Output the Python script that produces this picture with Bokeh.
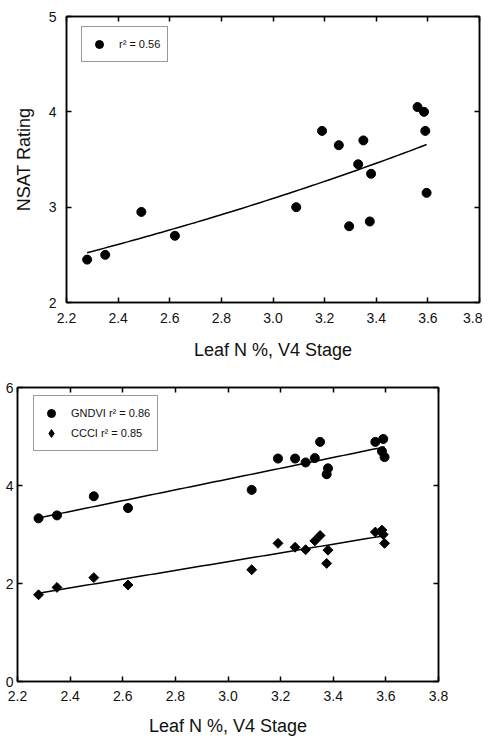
import numpy as np
from bokeh.plotting import figure
from bokeh.models import (LinearAxis, FixedTicker, PrintfTickFormatter, Range1d,
                          Legend, LegendItem)
from bokeh.layouts import column
from bokeh.embed import file_html
from bokeh.resources import INLINE

# ---- data ----
leaf_n = [2.28, 2.35, 2.49, 2.62, 3.09, 3.19, 3.255, 3.295, 3.33, 3.35,
          3.375, 3.38, 3.56, 3.585, 3.59, 3.595]
nsat = [2.45, 2.50, 2.95, 2.70, 3.00, 3.80, 3.65, 2.80, 3.45, 3.70,
        2.85, 3.35, 4.05, 4.00, 3.80, 3.15]
gndvi = [3.33, 3.39, 3.78, 3.54, 3.91, 4.55, 4.55, 4.47, 4.56, 4.89,
         4.23, 4.35, 4.89, 4.70, 4.95, 4.58]
ccci = [1.77, 1.92, 2.12, 1.97, 2.28, 2.82, 2.74, 2.69, 2.87, 2.98,
        2.41, 2.68, 3.05, 3.09, 3.00, 2.82]

x_ticks = [2.2, 2.4, 2.6, 2.8, 3.0, 3.2, 3.4, 3.6, 3.8]
top_y_ticks = [2, 3, 4, 5]
bot_y_ticks = [0, 2, 4, 6]
x_title = "Leaf N %, V4 Stage"
top_y_title = "NSAT Rating"
top_label = "r\u00b2 = 0.56"
gndvi_label = "GNDVI r\u00b2 = 0.86"
ccci_label = "CCCI r\u00b2 = 0.85"

FONT = "Liberation Sans"
TXT = "#111111"

x_arr = np.array(leaf_n)
xs = np.linspace(x_arr.min(), x_arr.max(), 60)

# exponential fit for NSAT, linear fits for the indices
b, ln_a = np.polyfit(x_arr, np.log(np.array(nsat)), 1)
nsat_fit = np.exp(ln_a + b * xs)
g_fit = np.polyval(np.polyfit(x_arr, np.array(gndvi), 1), xs)
c_fit = np.polyval(np.polyfit(x_arr, np.array(ccci), 1), xs)


def mirror_axis(ticks):
    return LinearAxis(ticker=FixedTicker(ticks=ticks), major_label_text_font_size="1px",
                      major_label_text_color=None, major_label_standoff=0,
                      major_tick_in=5, major_tick_out=0, major_tick_line_width=1.5,
                      minor_tick_line_color=None, axis_line_width=1.5)


def style(p, yticks, label_standoff_x, title_standoff_x, label_standoff_y):
    p.frame_align = False
    p.outline_line_color = "black"
    p.outline_line_width = 1.5
    p.grid.visible = False
    p.background_fill_color = "white"
    p.border_fill_color = "white"
    for ax in p.xaxis + p.yaxis:
        ax.axis_line_color = "black"
        ax.axis_line_width = 1.5
        ax.major_tick_in = 5
        ax.major_tick_out = 0
        ax.major_tick_line_width = 1.5
        ax.minor_tick_line_color = None
        ax.major_label_text_font = FONT
        ax.major_label_text_font_size = "14px"
        ax.major_label_text_color = TXT
        ax.axis_label_text_font = FONT
        ax.axis_label_text_font_size = "18px"
        ax.axis_label_text_font_style = "normal"
        ax.axis_label_text_color = TXT
    p.xaxis.ticker = FixedTicker(ticks=x_ticks)
    p.xaxis.formatter = PrintfTickFormatter(format="%.1f")
    p.yaxis.ticker = FixedTicker(ticks=yticks)
    p.xaxis.major_label_standoff = label_standoff_x
    p.xaxis.axis_label_standoff = title_standoff_x
    p.yaxis.major_label_standoff = label_standoff_y
    p.add_layout(mirror_axis(x_ticks), "above")
    p.add_layout(mirror_axis(yticks), "right")


def make_legend(p, items, loc):
    leg = Legend(items=items, location=loc)
    leg.label_text_font = FONT
    leg.label_text_font_size = "11px"
    leg.label_text_color = TXT
    leg.border_line_color = "#333333"
    leg.border_line_width = 1.5
    leg.background_fill_color = "white"
    leg.background_fill_alpha = 1
    leg.glyph_width = 20
    leg.glyph_height = 20
    leg.label_height = 14
    leg.label_standoff = 10
    leg.padding = 7
    leg.spacing = -4
    leg.margin = 0
    p.add_layout(leg, "center")


# ---- top panel ----
p1 = figure(width=482, height=362, output_backend="svg", toolbar_location=None,
            x_range=Range1d(2.2, 3.8), y_range=Range1d(2, 5),
            min_border_left=66, min_border_right=3, min_border_top=16, min_border_bottom=58)
p1.xaxis.axis_label = x_title
p1.yaxis.axis_label = top_y_title
p1.yaxis.axis_label_standoff = 12
style(p1, top_y_ticks, 10, 14, 10)
p1.line(xs, nsat_fit, line_color="black", line_width=1.5)
r_top = p1.scatter(leaf_n, nsat, marker="circle", size=9, fill_color="black", line_color="black")
make_legend(p1, [LegendItem(label=top_label, renderers=[r_top])], (15, 240))

# ---- bottom panel ----
p2 = figure(width=468, height=377, output_backend="svg", toolbar_location=None,
            x_range=Range1d(2.2, 3.8), y_range=Range1d(0, 6),
            min_border_left=17, min_border_right=30, min_border_top=25, min_border_bottom=58)
p2.xaxis.axis_label = x_title
style(p2, bot_y_ticks, 9, 12, 4)
p2.line(xs, g_fit, line_color="black", line_width=1.5)
p2.line(xs, c_fit, line_color="black", line_width=1.5)
r_g = p2.scatter(leaf_n, gndvi, marker="circle", size=9, fill_color="black", line_color="black")
p2.scatter(leaf_n, ccci, marker="square", angle=np.pi / 4, size=7,
           fill_color="black", line_color="black")
# legend swatch for the diamond series (holds no visible point)
r_c_leg = p2.scatter(x=[np.nan], y=[np.nan], marker="diamond", fill_color="black",
                     line_color="black")
make_legend(p2, [LegendItem(label=gndvi_label, renderers=[r_g]),
                 LegendItem(label=ccci_label, renderers=[r_c_leg])], (16, 230))

layout = column(p1, p2, spacing=0)
open("out.html", "w").write(file_html(layout, INLINE))
